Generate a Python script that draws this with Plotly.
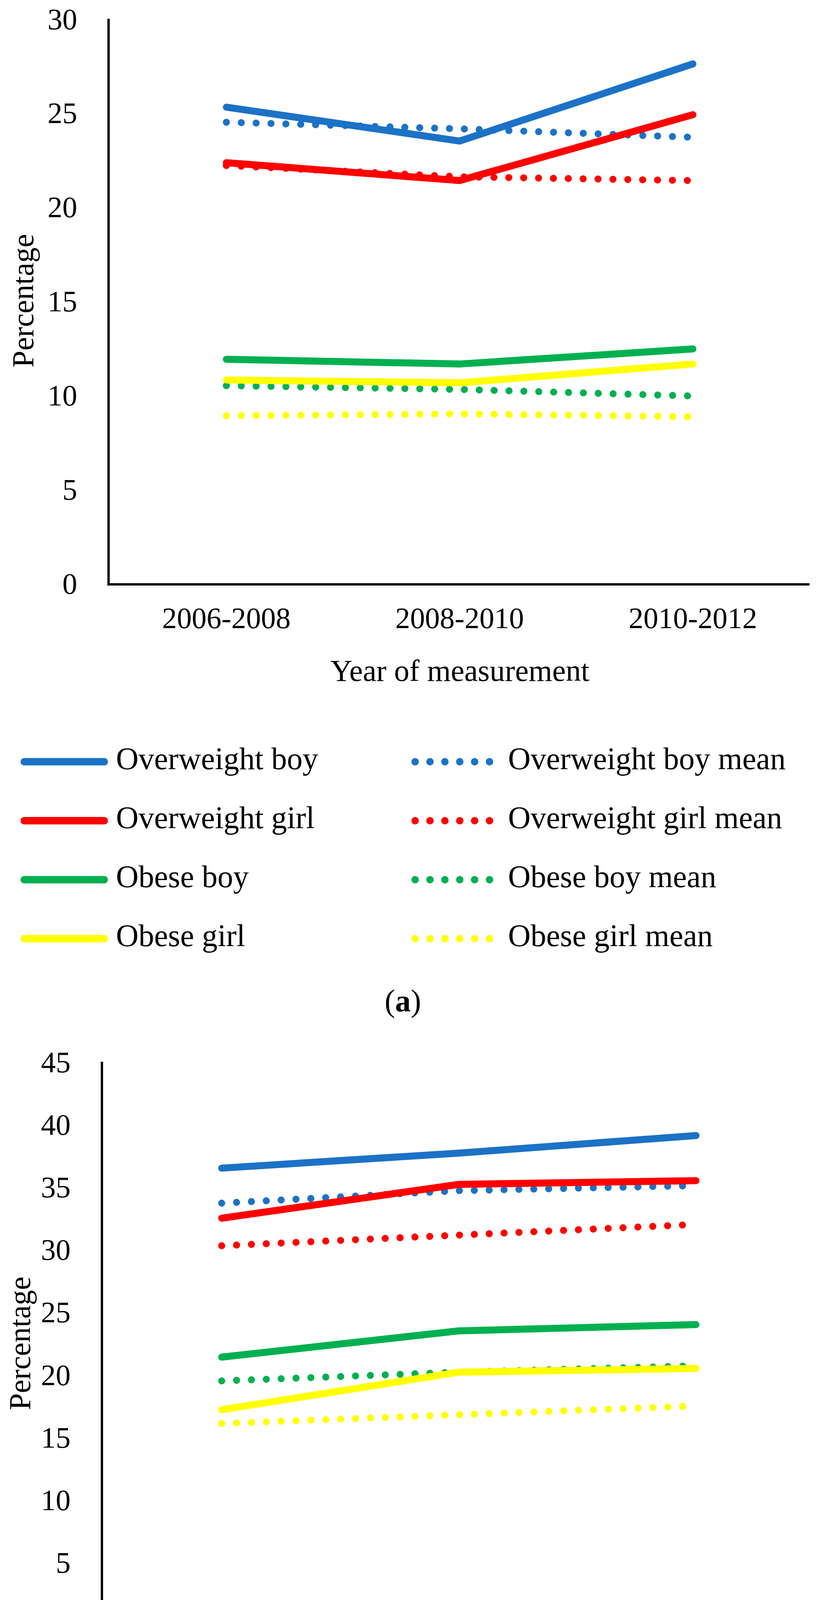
import plotly.graph_objects as go

# ---------------- data ----------------
periods = ["2006-2008", "2008-2010", "2010-2012"]

series_names = [
    "Overweight boy", "Overweight boy mean",
    "Overweight girl", "Overweight girl mean",
    "Obese boy", "Obese boy mean",
    "Obese girl", "Obese girl mean",
]

# panel (a)
a_overweight_boy = [25.3, 23.5, 27.6]
a_overweight_boy_mean = [24.5, 24.15, 23.7]
a_overweight_girl = [22.35, 21.4, 24.9]
a_overweight_girl_mean = [22.2, 21.6, 21.4]
a_obese_boy = [11.9, 11.65, 12.45]
a_obese_boy_mean = [10.5, 10.3, 9.95]
a_obese_girl = [10.8, 10.65, 11.65]
a_obese_girl_mean = [8.9, 9.0, 8.85]

# panel (b)
b_overweight_boy = [36.5, 37.7, 39.1]
b_overweight_boy_mean = [33.7, 34.7, 35.1]
b_overweight_girl = [32.5, 35.2, 35.5]
b_overweight_girl_mean = [30.3, 31.1, 32.0]
b_obese_boy = [21.4, 23.5, 24.0]
b_obese_boy_mean = [19.5, 20.2, 20.7]
b_obese_girl = [17.2, 20.2, 20.5]
b_obese_girl_mean = [16.1, 16.8, 17.5]

y_ticks_a = [0, 5, 10, 15, 20, 25, 30]
y_ticks_b = [0, 5, 10, 15, 20, 25, 30, 35, 40, 45]

# ---------------- styling ----------------
W, H = 2105, 5298
FONT = "Liberation Serif, Times New Roman, serif"
BLUE, RED, GREEN, YELLOW = "#1C72C6", "#FF0000", "#00B050", "#FFFF00"
colors = [BLUE, BLUE, RED, RED, GREEN, GREEN, YELLOW, YELLOW]
dashes = ["solid", "dot"] * 4
LW = 18


def fx(p):
    return p / W


def fy(p):
    return 1 - p / H


panel_a = [a_overweight_boy, a_overweight_boy_mean, a_overweight_girl, a_overweight_girl_mean,
           a_obese_boy, a_obese_boy_mean, a_obese_girl, a_obese_girl_mean]
panel_b = [b_overweight_boy, b_overweight_boy_mean, b_overweight_girl, b_overweight_girl_mean,
           b_obese_boy, b_obese_boy_mean, b_obese_girl, b_obese_girl_mean]

fig = go.Figure()
for vals, name, c, d in zip(panel_a, series_names, colors, dashes):
    fig.add_trace(go.Scatter(x=periods, y=vals, name=name, mode="lines",
                             line=dict(color=c, width=LW, dash=d),
                             xaxis="x", yaxis="y", showlegend=False))
for vals, name, c, d in zip(panel_b, series_names, colors, dashes):
    fig.add_trace(go.Scatter(x=periods, y=vals, name=name, mode="lines",
                             line=dict(color=c, width=LW, dash=d),
                             xaxis="x2", yaxis="y2", showlegend=False))

tickfont = dict(family=FONT, size=76, color="black")
common_x = dict(type="category", range=[-0.5, 2.5], showgrid=False, zeroline=False,
                showline=True, linecolor="black", linewidth=6, ticks="",
                tickfont=tickfont, ticklabelstandoff=18, fixedrange=True,
                automargin=False)
common_y = dict(showgrid=False, zeroline=False, showline=True, linecolor="black",
                linewidth=6, ticks="", tickfont=tickfont, ticklabelstandoff=62,
                fixedrange=True, automargin=False)

fig.update_layout(
    width=W, height=H,
    margin=dict(l=0, r=0, t=0, b=0, autoexpand=False),
    paper_bgcolor="white", plot_bgcolor="white",
    showlegend=False,
    xaxis=dict(common_x, domain=[fx(281), fx(2073)], anchor="y"),
    yaxis=dict(common_y, domain=[fy(1493), fy(48)], range=[0, 30],
               tickvals=y_ticks_a, anchor="x"),
    xaxis2=dict(common_x, domain=[fx(264), fx(2086)], anchor="y2"),
    yaxis2=dict(common_y, domain=[fy(4160), fy(2718)], range=[0, 45],
                tickvals=y_ticks_b, anchor="x2"),
)

annotations = []
shapes = []


def text(x, y, s, size=78, angle=0, xanchor="center"):
    annotations.append(dict(x=fx(x), y=fy(y), xref="paper", yref="paper", text=s,
                            showarrow=False, textangle=angle, xanchor=xanchor,
                            yanchor="middle",
                            font=dict(family=FONT, size=size, color="black")))


# axis titles
text(58, 770, "Percentage", angle=-90)
text(1178, 1716, "Year of measurement")
text(50, 3439, "Percentage", angle=-90)
text(1178, 4387, "Year of measurement")

# captions
text(1031, 2562, "(<b>a</b>)", size=80)
text(1030, 5232, "(<b>b</b>)", size=80)


# legends (two columns, four rows)
def legend(rows_y):
    for i in range(4):
        y = rows_y[i]
        for j in range(2):
            k = 2 * i + j
            if j == 0:
                x0, x1, tx = 62, 267, 295
            else:
                x0, x1, tx = 1063, 1258, 1299
            shapes.append(dict(type="line", xref="paper", yref="paper",
                               x0=fx(x0), x1=fx(x1), y0=fy(y), y1=fy(y),
                               line=dict(color=colors[k], width=19, dash=dashes[k])))
            text(tx, y - 8, series_names[k], size=80, xanchor="left")


legend([1950, 2101, 2252, 2403])
legend([4621, 4772, 4922, 5073])

fig.update_layout(annotations=annotations, shapes=shapes)

# page without body margin; round line caps and round dots (Excel "round dot")
post = """
document.body.style.margin = '0';
document.body.style.overflow = 'hidden';
var gd = document.getElementById('{plot_id}');
gd.querySelectorAll('path.js-line, g.shapelayer path').forEach(function(p){
  p.style.strokeLinecap = 'round';
  var d = p.style.strokeDasharray;
  if (d && d !== 'none' && d !== '') {
    p.style.strokeDasharray = '0.1px,38px';
  }
});
"""
fig.write_html("out.html", post_script=post,
               config={"displayModeBar": False, "staticPlot": True})
